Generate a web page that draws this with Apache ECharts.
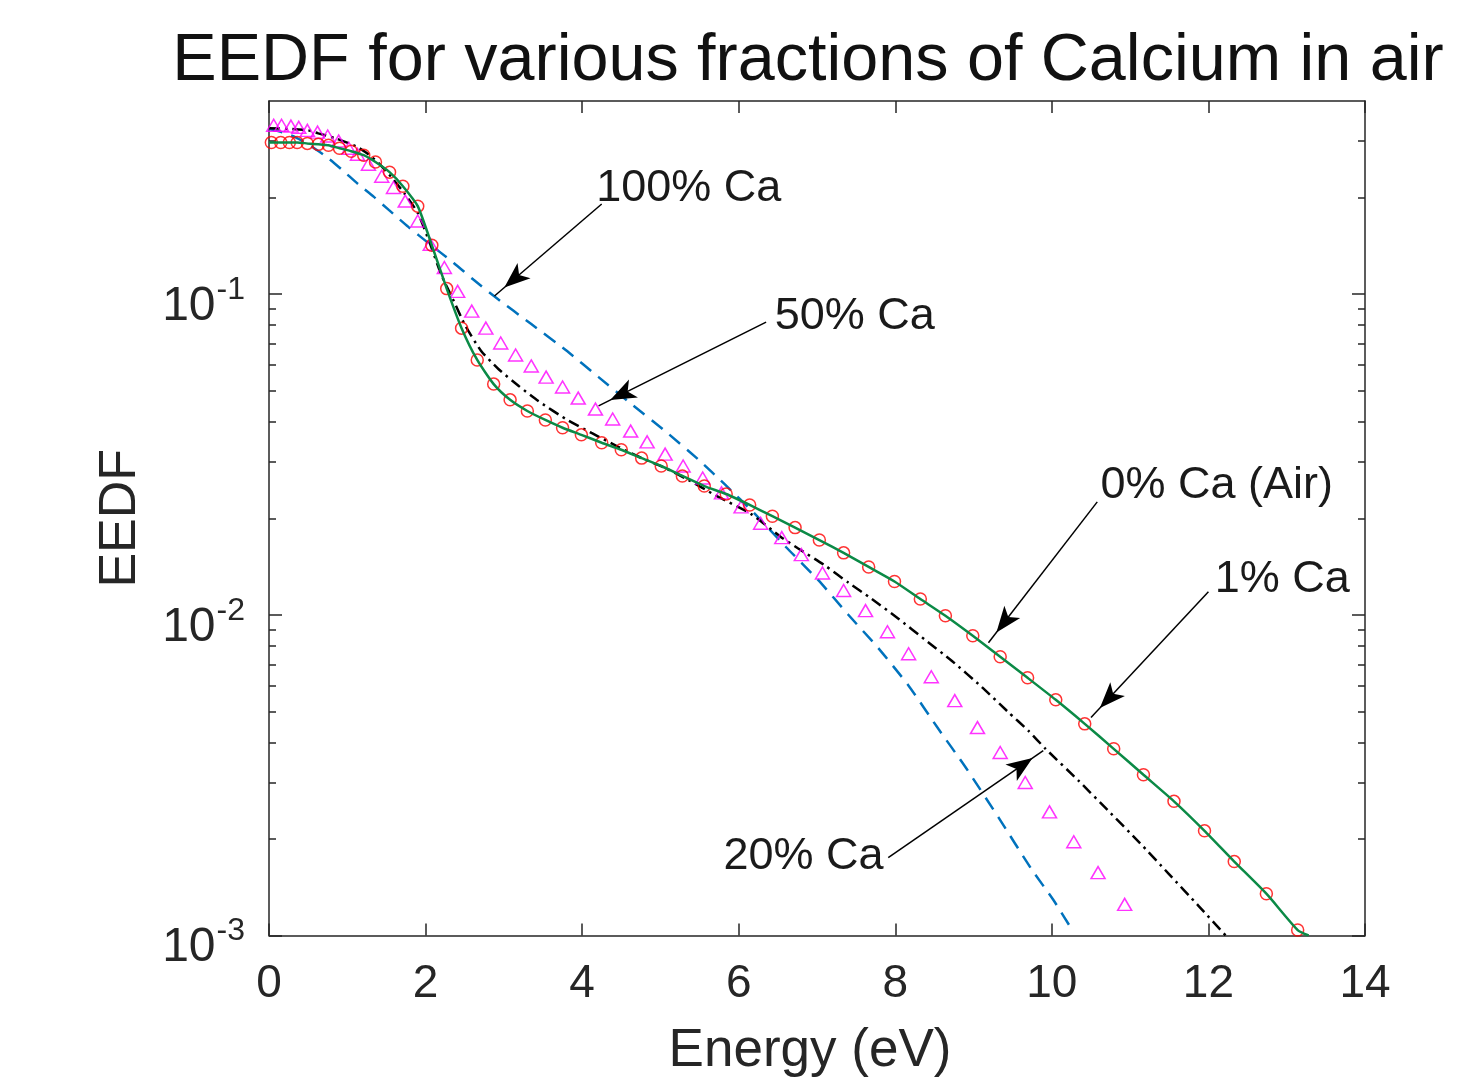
<!DOCTYPE html>
<html>
<head>
<meta charset="utf-8">
<script src="https://cdn.jsdelivr.net/npm/echarts@6/dist/echarts.min.js"></script>
<style>html,body{margin:0;padding:0;background:#fff}#c{width:1458px;height:1088px}</style>
</head>
<body>
<div id="c"></div>
<script>
// ---------------- data ----------------
const xTicks = [0, 2, 4, 6, 8, 10, 12, 14];
const yMajor = [0.001, 0.01, 0.1];
const yMinor = [0.002, 0.003, 0.004, 0.005, 0.006, 0.007, 0.008, 0.009,
                0.02, 0.03, 0.04, 0.05, 0.06, 0.07, 0.08, 0.09, 0.2, 0.3];

// 0% Ca (Air) - solid green line
const air_E = [0, 0.03,0.15,0.26,0.36,0.49,0.63,0.76,0.90,1.05,1.21,1.36,1.54,1.71,1.90,2.08,2.27,2.46,2.66,2.87,3.08,3.30,3.53,3.75,3.99,4.25,4.50,4.76,5.01,5.28,5.56,5.84,6.14,6.43,6.72,7.03,7.34,7.66,7.99,8.32,8.64,8.99,9.34,9.69,10.05,10.42,10.79,11.17,11.56,11.95,12.33,12.74,13.14, 13.28];
const air_F = [0.297, 0.297,0.297,0.297,0.297,0.295,0.293,0.291,0.285,0.279,0.271,0.258,0.240,0.217,0.188,0.142,0.104,0.0783,0.0623,0.0524,0.0468,0.0432,0.0405,0.0383,0.0364,0.0344,0.0327,0.0308,0.0291,0.0271,0.0252,0.0238,0.0220,0.0203,0.0187,0.0171,0.0156,0.0141,0.0127,0.0112,0.00993,0.00860,0.00740,0.00636,0.00543,0.00457,0.00382,0.00317,0.00262,0.00212,0.00170,0.00135,0.00104, 0.00100];

// 1% Ca - red circles
const ca1_E = [0.03,0.15,0.26,0.36,0.49,0.63,0.76,0.90,1.05,1.21,1.36,1.54,1.71,1.90,2.08,2.27,2.46,2.66,2.87,3.08,3.30,3.53,3.75,3.99,4.25,4.50,4.76,5.01,5.28,5.56,5.84,6.14,6.43,6.72,7.03,7.34,7.66,7.99,8.32,8.64,8.99,9.34,9.69,10.05,10.42,10.79,11.17,11.56,11.95,12.33,12.74,13.14];
const ca1_F = [0.297,0.297,0.297,0.297,0.295,0.293,0.291,0.285,0.279,0.271,0.258,0.240,0.217,0.188,0.142,0.104,0.0783,0.0623,0.0524,0.0468,0.0432,0.0405,0.0383,0.0364,0.0344,0.0327,0.0308,0.0291,0.0271,0.0252,0.0238,0.0220,0.0203,0.0187,0.0171,0.0156,0.0141,0.0127,0.0112,0.00993,0.00860,0.00740,0.00636,0.00543,0.00457,0.00382,0.00317,0.00262,0.00212,0.00170,0.00135,0.00104];

// 20% Ca - black dash-dot line
const ca20_E = [0,0.29,0.50,0.63,0.85,1.11,1.27,1.40,1.56,1.73,1.90,2.06,2.20,2.36,2.51,2.71,2.93,3.19,3.44,3.79,4.12,4.46,4.76,5.06,5.36,5.70,6.16,6.55,6.76,7.11,7.40,7.70,8.04,8.38,8.72,9.10,9.44,9.70,9.92,10.34,10.72,11.11,11.49,11.87,12.22];
const ca20_F = [0.329,0.327,0.324,0.317,0.306,0.289,0.273,0.256,0.232,0.206,0.179,0.143,0.115,0.0951,0.0795,0.0665,0.0584,0.0517,0.0464,0.0408,0.0369,0.0334,0.0308,0.0287,0.0263,0.0236,0.0206,0.0174,0.0161,0.0142,0.0126,0.0112,0.00972,0.00836,0.00719,0.00597,0.00498,0.00435,0.00382,0.00304,0.00245,0.00196,0.00156,0.00124,0.00100];

// 50% Ca - magenta triangles
const ca50_E = [0.06,0.16,0.28,0.38,0.49,0.62,0.75,0.89,1.02,1.13,1.27,1.44,1.59,1.74,1.90,2.06,2.24,2.41,2.59,2.77,2.96,3.15,3.35,3.54,3.75,3.95,4.17,4.39,4.62,4.83,5.06,5.29,5.54,5.78,6.03,6.28,6.55,6.80,7.07,7.34,7.62,7.90,8.17,8.46,8.76,9.05,9.34,9.66,9.97,10.28,10.59,10.93];
const ca50_F = [0.336,0.336,0.334,0.331,0.324,0.320,0.311,0.300,0.285,0.273,0.254,0.233,0.215,0.195,0.169,0.143,0.121,0.102,0.0885,0.0783,0.0704,0.0646,0.0597,0.0551,0.0513,0.0474,0.0438,0.0408,0.0374,0.0346,0.0317,0.0291,0.0267,0.0240,0.0217,0.0193,0.0174,0.0154,0.0135,0.0119,0.0103,0.00885,0.00756,0.00641,0.00540,0.00445,0.00372,0.00300,0.00243,0.00196,0.00157,0.00125];

// 100% Ca - blue dashed line
const ca100_E = [0,0.16,0.34,0.54,0.76,0.95,1.14,1.34,1.53,1.78,2.04,2.36,2.61,2.89,3.35,3.79,4.21,4.63,5.06,5.49,5.83,6.21,6.60,7.02,7.40,7.78,8.17,8.55,8.90,9.32,9.74,10.02,10.26];
const ca100_F = [0.327,0.320,0.308,0.289,0.265,0.242,0.220,0.201,0.183,0.162,0.144,0.125,0.111,0.0979,0.0806,0.0669,0.0551,0.0454,0.0374,0.0304,0.0254,0.0206,0.0163,0.0128,0.0100,0.00789,0.00601,0.00441,0.00334,0.00233,0.00161,0.00129,0.00104];

// annotations (data coordinates)
const annoText   = ['100% Ca', '50% Ca', '0% Ca (Air)', '1% Ca', '20% Ca'];
const annoTextE  = [4.18, 6.46, 10.62, 12.08, 7.85];
const annoTextF  = [0.214, 0.0848, 0.0252, 0.0129, 0.00176];
const annoSide   = ['right', 'right', 'right', 'right', 'left'];
const arrowFromE = [4.25, 6.35, 10.58, 12.00, 7.91];
const arrowFromF = [0.191, 0.0818, 0.0225, 0.0118, 0.00175];
const arrowToE   = [2.88, 4.21, 9.19, 10.50, 9.89];
const arrowToF   = [0.0986, 0.0448, 0.00818, 0.00478, 0.00377];

// ---------------- chart ----------------
const FONT = '"Liberation Sans", Arial, Helvetica, sans-serif';
const AX = '#262626';
const pairs = (xs, ys) => xs.map((x, i) => [x, ys[i]]);

const chart = echarts.init(document.getElementById('c'), null, {renderer: 'canvas'});

const xBase = {
  type: 'value', min: xTicks[0], max: xTicks[xTicks.length - 1], interval: 2,
  splitLine: {show: false},
  axisLine: {show: true, onZero: false, lineStyle: {color: AX, width: 1.5}},
  axisTick: {show: true, inside: true, length: 12, lineStyle: {color: AX, width: 1.5}}
};
const yBase = {
  type: 'log', logBase: 10, min: 0.001, max: 0.4,
  splitLine: {show: false}, minorTick: {show: false}, minorSplitLine: {show: false}
};

const option = {
  animation: false,
  backgroundColor: '#ffffff',
  title: {
    text: 'EEDF for various fractions of Calcium in air',
    left: 803, top: 23, textAlign: 'center',
    textStyle: {fontSize: 66.5, fontWeight: 'normal', color: '#111', fontFamily: FONT}
  },
  grid: {left: 269, right: 93, top: 101, bottom: 152.5, containLabel: false, outerBoundsMode: 'none'},
  xAxis: [
    Object.assign({}, xBase, {
      position: 'bottom',
      axisLabel: {show: true, margin: 26, fontSize: 46, color: AX, fontFamily: FONT},
      name: 'Energy (eV)', nameLocation: 'middle', nameGap: 89,
      nameTextStyle: {fontSize: 53, color: AX, fontFamily: FONT, padding: [0, 14, 0, 0]}
    }),
    Object.assign({}, xBase, {position: 'top', axisLabel: {show: false}})
  ],
  yAxis: [
    Object.assign({}, yBase, {
      position: 'left',
      axisLine: {show: true, onZero: false, lineStyle: {color: AX, width: 1.5}},
      axisTick: {show: true, inside: true, length: 13, customValues: yMajor, lineStyle: {color: AX, width: 1.5}},
      axisLabel: {
        show: true, margin: 24, customValues: yMajor, color: AX, fontFamily: FONT,
        padding: [25, 0, 0, 0],
        formatter: v => '{b|10}{s|' + Math.round(Math.log10(v)) + '}',
        rich: {
          b: {fontSize: 48, color: AX, fontFamily: FONT},
          s: {fontSize: 32, color: AX, fontFamily: FONT, padding: [0, 0, 33, 1]}
        }
      },
      name: 'EEDF', nameLocation: 'middle', nameGap: 122, nameRotate: 90,
      nameTextStyle: {fontSize: 52, color: AX, fontFamily: FONT}
    }),
    Object.assign({}, yBase, {
      position: 'left',
      axisLine: {show: false, onZero: false},
      axisTick: {show: true, inside: true, length: 7, customValues: yMinor, lineStyle: {color: AX, width: 1.5}},
      axisLabel: {show: false}
    }),
    Object.assign({}, yBase, {
      position: 'right',
      axisLine: {show: true, onZero: false, lineStyle: {color: AX, width: 1.5}},
      axisTick: {show: true, inside: true, length: 13, customValues: yMajor, lineStyle: {color: AX, width: 1.5}},
      axisLabel: {show: false}
    }),
    Object.assign({}, yBase, {
      position: 'right',
      axisLine: {show: false, onZero: false},
      axisTick: {show: true, inside: true, length: 7, customValues: yMinor, lineStyle: {color: AX, width: 1.5}},
      axisLabel: {show: false}
    })
  ],
  series: [
    {
      name: '100% Ca', type: 'line', xAxisIndex: 0, yAxisIndex: 0, z: 2,
      data: pairs(ca100_E, ca100_F), showSymbol: false, smooth: 0.2, clip: true,
      lineStyle: {color: '#0072BD', width: 2.5, type: [14, 9]}
    },
    {
      name: '20% Ca', type: 'line', xAxisIndex: 0, yAxisIndex: 0, z: 3,
      data: pairs(ca20_E, ca20_F), showSymbol: false, smooth: 0.2, clip: true,
      lineStyle: {color: '#000000', width: 2.5, type: [11, 5, 2.5, 5]}
    },
    {
      name: '50% Ca', type: 'scatter', xAxisIndex: 0, yAxisIndex: 0, z: 4,
      data: pairs(ca50_E, ca50_F), symbol: 'triangle', symbolSize: [14, 12],
      itemStyle: {color: 'rgba(0,0,0,0)', borderColor: '#ff00ff', borderWidth: 1.5}
    },
    {
      name: '1% Ca', type: 'scatter', xAxisIndex: 0, yAxisIndex: 0, z: 4,
      data: pairs(ca1_E, ca1_F), symbol: 'circle', symbolSize: 12,
      itemStyle: {color: 'rgba(0,0,0,0)', borderColor: '#ff0000', borderWidth: 1.5}
    },
    {
      name: '0% Ca (Air)', type: 'line', xAxisIndex: 0, yAxisIndex: 0, z: 5,
      data: pairs(air_E, air_F), showSymbol: false, smooth: 0.2, clip: true,
      lineStyle: {color: '#0b8a46', width: 2.5},
      markLine: {
        silent: true, animation: false, symbol: ['none', 'arrow'], symbolSize: [0, 20],
        lineStyle: {color: '#000', width: 1.5, type: 'solid'},
        label: {show: false},
        emphasis: {disabled: true},
        data: arrowFromE.map((e, i) => [
          {coord: [e, arrowFromF[i]], symbol: 'none'},
          {coord: [arrowToE[i], arrowToF[i]], symbol: 'arrow', symbolSize: [15, 26], symbolOffset: [0, 13],
           itemStyle: {color: '#000'}}
        ])
      },
      markPoint: {
        silent: true, animation: false, symbol: 'circle', symbolSize: 0,
        itemStyle: {color: 'rgba(0,0,0,0)'},
        label: {show: true, formatter: '{b}', fontSize: 45, color: '#1a1a1a', fontFamily: FONT, distance: 0},
        data: annoText.map((t, i) => ({
          name: t, coord: [annoTextE[i], annoTextF[i]],
          label: {position: annoSide[i], distance: 0}
        }))
      }
    }
  ]
};
chart.setOption(option);
</script>
</body>
</html>
